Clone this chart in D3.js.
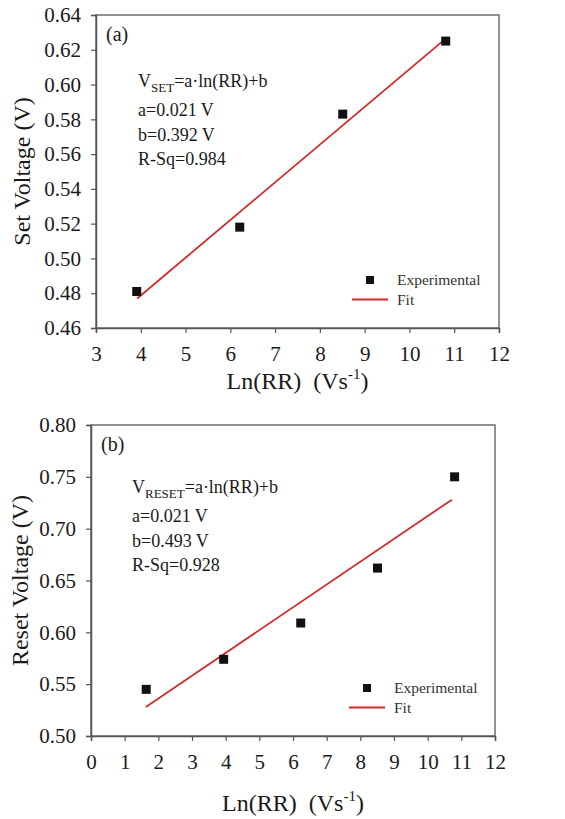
<!DOCTYPE html>
<html>
<head>
<meta charset="utf-8">
<script src="https://cdn.jsdelivr.net/npm/d3@7"></script>
<style>
  body { margin: 0; background: #fff; }
  svg text { font-family: "Liberation Serif", "Times New Roman", Times, serif !important; }
</style>
</head>
<body>
<svg id="svg" width="565" height="819"></svg>
<script>
// panel (a): set voltage
var setX = [3.91, 6.21, 8.51, 10.81];
var setY = [0.481, 0.518, 0.583, 0.625];
var setFitX = [3.92, 10.79];
var setFitY = [0.477, 0.626];
var setXTicks = [3, 4, 5, 6, 7, 8, 9, 10, 11, 12];
var setYTicks = [0.46, 0.48, 0.5, 0.52, 0.54, 0.56, 0.58, 0.6, 0.62, 0.64];
var setNotes = ["a=0.021 V", "b=0.392 V", "R-Sq=0.984"];

// panel (b): reset voltage
var resetX = [1.64, 3.94, 6.23, 8.51, 10.8];
var resetY = [0.545, 0.574, 0.609, 0.662, 0.75];
var resetFitX = [1.63, 10.72];
var resetFitY = [0.528, 0.728];
var resetXTicks = [0, 1, 2, 3, 4, 5, 6, 7, 8, 9, 10, 11, 12];
var resetYTicks = [0.5, 0.55, 0.6, 0.65, 0.7, 0.75, 0.8];
var resetNotes = ["a=0.021 V", "b=0.493 V", "R-Sq=0.928"];

var svg = d3.select("#svg");
svg.append("rect").attr("width", 565).attr("height", 819).attr("fill", "#fff");

function drawPanel(p) {
  var x = d3.scaleLinear().domain(p.xDomain).range([p.left, p.right]);
  var y = d3.scaleLinear().domain(p.yDomain).range([p.bottom, p.top]);
  var g = svg.append("g");

  //frame
  g.append("rect")
    .attr("x", p.left).attr("y", p.top)
    .attr("width", p.right - p.left).attr("height", p.bottom - p.top)
    .attr("fill", "none").attr("stroke", "#6e6e6e").attr("stroke-width", 1.5);

  var xAxis = g.append("g")
    .attr("transform", "translate(0," + p.bottom + ")")
    .call(d3.axisBottom(x).tickValues(p.xTicks).tickSize(5).tickPadding(13).tickFormat(d3.format("d")));
  var yAxis = g.append("g")
    .attr("transform", "translate(" + p.left + ",0)")
    .call(d3.axisLeft(y).tickValues(p.yTicks).tickSize(5).tickPadding(10).tickFormat(d3.format(".2f")));

  [xAxis, yAxis].forEach(function (a) {
    a.attr("font-family", null);
    a.select(".domain").attr("stroke", "#555").attr("stroke-width", 1.5);
    a.selectAll(".tick line").attr("stroke", "#555").attr("stroke-width", 1.2);
    a.selectAll("text")
      .attr("font-size", 21).attr("fill", "#1a1a1a");
  });

  //axis titles
  svg.append("text")
    .attr("transform", "translate(" + p.yTitleX + "," + (p.top + p.bottom) / 2 + ") rotate(-90)")
    .attr("text-anchor", "middle").attr("dy", "0.35em")
    .attr("font-size", 24).attr("fill", "#1a1a1a")
    .text(p.yTitle);

  var xt = svg.append("text")
    .attr("x", (p.left + p.right) / 2).attr("y", p.xTitleY)
    .attr("text-anchor", "middle")
    .attr("font-size", 24).attr("fill", "#1a1a1a");
  xt.append("tspan").text("Ln(RR)\u00a0\u00a0(Vs");
  xt.append("tspan").attr("font-size", 15).attr("dy", -10).text("-1");
  xt.append("tspan").attr("dy", 10).text(")");

  //fit line
  var fit = p.fitX.map(function (d, i) { return [d, p.fitY[i]]; });
  g.append("path")
    .datum(fit)
    .attr("d", d3.line().x(function (d) { return x(d[0]); }).y(function (d) { return y(d[1]); }))
    .attr("stroke", "#d42a2a").attr("stroke-width", 1.8).attr("fill", "none");

  //points
  var pts = p.ptX.map(function (d, i) { return [d, p.ptY[i]]; });
  g.selectAll("rect.pt")
    .data(pts)
    .enter()
    .append("rect")
    .attr("class", "pt")
    .attr("x", function (d) { return x(d[0]) - 4.5; })
    .attr("y", function (d) { return y(d[1]) - 4.5; })
    .attr("width", 9).attr("height", 9)
    .attr("fill", "#111");

  //panel letter
  g.append("text")
    .attr("x", p.left + 10).attr("y", p.top + 26)
    .attr("font-size", 20).attr("fill", "#1a1a1a")
    .text(p.letter);

  //equation block
  var eq = g.append("text")
    .attr("x", p.eqX).attr("y", p.eqY)
    .attr("font-size", 18).attr("fill", "#1a1a1a");
  eq.append("tspan").text("V");
  eq.append("tspan").attr("font-size", 13).attr("dy", 5).text(p.sub);
  eq.append("tspan").attr("dy", -5).text("=a\u00b7ln(RR)+b");
  p.notes.forEach(function (n, i) {
    g.append("text")
      .attr("x", p.eqX).attr("y", p.eqY + 29 + i * 24.5)
      .attr("font-size", 18).attr("fill", "#1a1a1a")
      .text(n);
  });

  //legend
  g.append("rect")
    .attr("x", p.legX - 4).attr("y", p.legY - 4)
    .attr("width", 8).attr("height", 8).attr("fill", "#111");
  g.append("text")
    .attr("x", p.legX + 27).attr("y", p.legY).attr("dy", "0.35em")
    .attr("font-size", 15.5).attr("fill", "#333")
    .text("Experimental");
  g.append("line")
    .attr("x1", p.legX - 18).attr("x2", p.legX + 18)
    .attr("y1", p.legY + 19.5).attr("y2", p.legY + 19.5)
    .attr("stroke", "#d42a2a").attr("stroke-width", 1.8);
  g.append("text")
    .attr("x", p.legX + 27).attr("y", p.legY + 19.5).attr("dy", "0.35em")
    .attr("font-size", 15.5).attr("fill", "#333")
    .text("Fit");
}

drawPanel({
  xDomain: [3, 12], yDomain: [0.46, 0.64],
  left: 96, right: 499, top: 15, bottom: 328,
  xTicks: setXTicks, yTicks: setYTicks,
  ptX: setX, ptY: setY, fitX: setFitX, fitY: setFitY,
  yTitle: "Set Voltage (V)", yTitleX: 22, xTitleY: 389,
  letter: "(a)", sub: "SET", notes: setNotes, eqX: 138, eqY: 87,
  legX: 370, legY: 280
});

drawPanel({
  xDomain: [0, 12], yDomain: [0.5, 0.8],
  left: 91, right: 495, top: 425, bottom: 736,
  xTicks: resetXTicks, yTicks: resetYTicks,
  ptX: resetX, ptY: resetY, fitX: resetFitX, fitY: resetFitY,
  yTitle: "Reset Voltage (V)", yTitleX: 20, xTitleY: 811,
  letter: "(b)", sub: "RESET", notes: resetNotes, eqX: 132, eqY: 493,
  legX: 367, legY: 688
});
</script>
</body>
</html>
